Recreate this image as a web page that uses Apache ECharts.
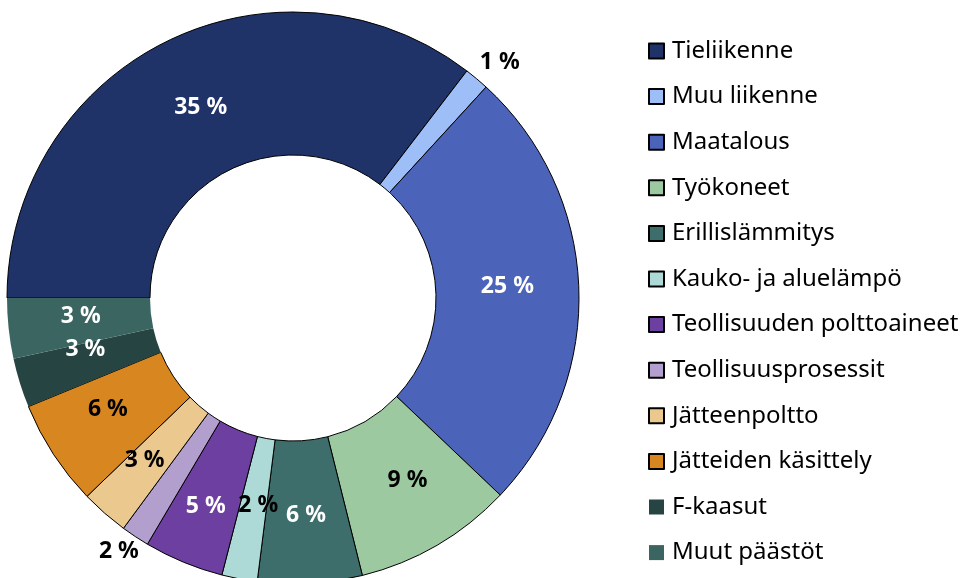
<!DOCTYPE html>
<html><head><meta charset="utf-8">
<script src="https://cdn.jsdelivr.net/npm/echarts@6/dist/echarts.min.js"></script>
<style>html,body{margin:0;padding:0;background:#fff}#c{width:964px;height:578px}</style>
</head><body><div id="c"></div>
<script>
const categories = ["Tieliikenne","Muu liikenne","Maatalous","Työkoneet","Erillislämmitys","Kauko- ja aluelämpö","Teollisuuden polttoaineet","Teollisuusprosessit","Jätteenpoltto","Jätteiden käsittely","F-kaasut","Muut päästöt"];
const shares = [35.4, 1.4, 25.3, 9.0, 5.9, 2.0, 4.5, 1.6, 2.7, 6.0, 2.8, 3.4];
const colors = ["#1F3369","#9DBEF7","#4B63B9","#9CC9A0","#3E6E6C","#ADDAD6","#6C3FA0","#B39FCD","#EBC88E","#D8861F","#264542","#3A6560"];
const labelColors = ["#fff","#000","#fff","#000","#fff","#000","#fff","#000","#000","#000","#fff","#fff"];
const outsideLabel = [false,true,false,false,false,false,false,true,false,false,false,false];
const borderless = [false,false,false,false,false,false,false,false,false,false,true,true];

// label nudges (layout only)
const labelNudge = {
  0: [4, 4], 1: [-2, -10], 2: [-3, -4], 3: [5, -5], 5: [6, -6],
  6: [-4, 8], 7: [8, 8], 8: [-5, -1], 9: [-3, -7], 10: [0, -13], 11: [4, -5]
};

const FONT = '"Noto Sans", sans-serif';
const chart = echarts.init(document.getElementById('c'), null, {renderer:'canvas'});
const data = categories.map((name, i) => ({
  name,
  value: shares[i],
  itemStyle: {
    color: colors[i],
    borderColor: borderless[i] ? colors[i] : '#000',
    borderWidth: borderless[i] ? 0 : 1
  },
  label: Object.assign(
    outsideLabel[i]
      ? {position: 'outside', color: '#000', distanceToLabelLine: 0}
      : {position: 'inside', color: labelColors[i]},
    labelNudge[i] ? {offset: labelNudge[i]} : {}
  ),
  labelLine: {show: false, length: 8, length2: 0}
}));

chart.setOption({
  animation: false,
  backgroundColor: '#fff',
  legend: {
    orient: 'vertical',
    left: 643,
    top: 34,
    itemWidth: 15,
    itemHeight: 15,
    itemGap: 21.6,
    icon: 'rect',
    selectedMode: false,
    textStyle: {fontFamily: FONT, fontSize: 24, color: '#000', padding: [0,0,0,3], lineHeight: 24},
    data: categories
  },
  series: [{
    type: 'pie',
    center: [293, 298],
    radius: [143, 286],
    startAngle: 180,
    clockwise: true,
    avoidLabelOverlap: false,
    label: {
      show: true,
      fontFamily: FONT,
      fontWeight: 'bold',
      fontSize: 23,
      formatter: p => Math.round(p.value) + ' %'
    },
    data
  }]
});
</script></body></html>
